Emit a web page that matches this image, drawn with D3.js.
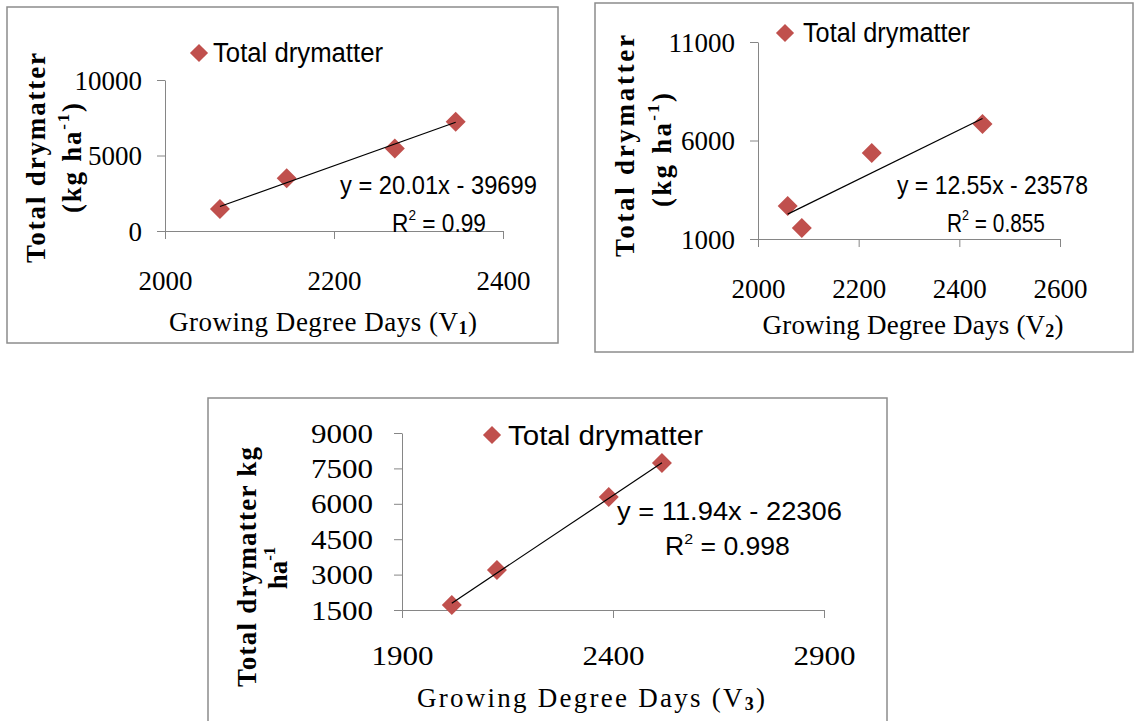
<!DOCTYPE html>
<html>
<head>
<meta charset="utf-8">
<script src="https://cdn.jsdelivr.net/npm/d3@7"></script>
<style>
body { margin: 0; background: #fff; }
</style>
</head>
<body>
<script>
// values (GDD vs total drymatter)
var gdd1 = [2065, 2144, 2272, 2344];
var dm1  = [1450, 3490, 5460, 7240];
var gdd2 = [2059, 2087, 2226, 2446];
var dm2  = [2680, 1560, 5370, 6840];
var gdd3 = [2018, 2125, 2390, 2516];
var dm3  = [1710, 3200, 6290, 7730];

// trendlines as printed on the chart
var slopes     = [20.01, 12.55, 11.94];
var intercepts = [-39699, -23578, -22306];
var r2Labels   = ["0.99", "0.855", "0.998"];

// axis ticks
var xTicks1 = [2000, 2200, 2400];
var yTicks1 = [0, 5000, 10000];
var xTicks2 = [2000, 2200, 2400, 2600];
var yTicks2 = [1000, 6000, 11000];
var xTicks3 = [1900, 2400, 2900];
var yTicks3 = [1500, 3000, 4500, 6000, 7500, 9000];

var seriesName = "Total drymatter";
var xTitles = ["Growing Degree Days  (V", "Growing Degree Days (V", "Growing Degree Days (V"];
var xSubs   = ["1", "2", "3"];
var yTitlesA = ["Total drymatter", "Total drymatter", "Total drymatter kg"];
var yTitlesB = [["(kg ha", "-1", ")"], ["(kg ha", "-1", ")"], ["ha", "-1", ""]];

var red = "#c0504d", axisGrey = "#868686";
var serif = "'Liberation Serif', 'Times New Roman', serif";
var sans = "'Liberation Sans', Arial, sans-serif";

// layout of each panel (pixels on the page)
var panels = [
  {box: [7, 7, 558, 343], xr: [165, 503], yr: [231, 80], xd: [2000, 2400], yd: [0, 10000],
   gdd: gdd1, dm: dm1, xt: xTicks1, yt: yTicks1, labX: 142, labY: 281, stretch: 1,
   legend: [199, 53, 213, 170], eq: [340, 185, 197], r2: [392, 223, 94],
   xTitle: [323, 322, 308], yA: [36, 158, 210], yB: [72, 158, 110]},
  {box: [595, 3, 1133, 352], xr: [758, 1060], yr: [239, 42], xd: [2000, 2600], yd: [1000, 11000],
   gdd: gdd2, dm: dm2, xt: xTicks2, yt: yTicks2, labX: 735, labY: 289, stretch: 1,
   legend: [785, 33, 803, 167], eq: [897, 185, 191], r2: [947, 223, 98],
   xTitle: [913, 325, 301], yA: [625, 146, 222], yB: [662, 150, 114]},
  {box: [208, 398, 887, 730], xr: [402, 824], yr: [610, 433], xd: [1900, 2900], yd: [1500, 9000],
   gdd: gdd3, dm: dm3, xt: xTicks3, yt: yTicks3, labX: 373, labY: 656, stretch: 1.15,
   legend: [492, 435, 508, 195], eq: [617, 511, 225], r2: [665, 546, 125],
   xTitle: [591, 698, 348], yA: [247, 567, 240], yB: [278, 568, 0]}
];

var svg = d3.select("body").append("svg")
    .attr("width", 1134)
    .attr("height", 721)
    .style("display", "block");

var marker = d3.symbol().type(d3.symbolSquare).size(200);
var legendMarker = d3.symbol().type(d3.symbolSquare).size(165);

function stretchText(sel, k) {
  if (k === 1) return;
  sel.each(function() {
    var w = this.getComputedTextLength();
    d3.select(this).attr("textLength", w * k).attr("lengthAdjust", "spacingAndGlyphs");
  });
}

// squeeze a text (with its tspans) horizontally to a given width
function fitWidth(t, x, y, w) {
  var natural = t.node().getComputedTextLength();
  t.attr("transform", "translate(" + x + "," + y + ") scale(" + (w / natural) + ",1)");
}

panels.forEach(function(p, i) {
  var g = svg.append("g");

  g.append("rect")
      .attr("x", p.box[0])
      .attr("y", p.box[1])
      .attr("width", p.box[2] - p.box[0])
      .attr("height", p.box[3] - p.box[1])
      .attr("fill", "#fff")
      .attr("stroke", "#8c8c8c")
      .attr("stroke-width", 1.5);

  var x = d3.scaleLinear().domain(p.xd).range(p.xr);
  var y = d3.scaleLinear().domain(p.yd).range(p.yr);

  // x axis, labels pushed down like the Excel original
  var xg = g.append("g")
      .attr("transform", "translate(0," + p.yr[0] + ")")
      .call(d3.axisBottom(x).tickValues(p.xt).tickSize(8).tickSizeOuter(0).tickFormat(d3.format("d")));
  xg.selectAll("text")
      .attr("y", p.labY - p.yr[0])
      .attr("dy", null)
      .attr("dominant-baseline", "central")
      .attr("font-family", serif)
      .attr("font-size", 27)
      .attr("fill", "#000")
      .call(stretchText, p.stretch);

  // y axis
  var yg = g.append("g")
      .attr("transform", "translate(" + p.xr[0] + ",0)")
      .call(d3.axisLeft(y).tickValues(p.yt).tickSize(8).tickSizeOuter(0).tickFormat(d3.format("d")));
  yg.selectAll("text")
      .attr("x", p.labX - p.xr[0])
      .attr("dy", null)
      .attr("dominant-baseline", "central")
      .attr("font-family", serif)
      .attr("font-size", 27)
      .attr("fill", "#000")
      .call(stretchText, p.stretch);

  [xg, yg].forEach(function(a) {
    a.select(".domain").attr("stroke", axisGrey);
    a.selectAll(".tick line").attr("stroke", axisGrey);
  });

  // markers
  g.selectAll(".pt")
      .data(d3.zip(p.gdd, p.dm))
    .enter().append("path")
      .attr("class", "pt")
      .attr("d", marker)
      .attr("fill", red)
      .attr("transform", function(d) { return "translate(" + x(d[0]) + "," + y(d[1]) + ") rotate(45)"; });

  // linear trendline over the data range
  var ext = d3.extent(p.gdd);
  g.append("path")
      .datum(ext)
      .attr("fill", "none")
      .attr("stroke", "#000")
      .attr("stroke-width", 1.2)
      .attr("d", d3.line()
        .x(function(d) { return x(d); })
        .y(function(d) { return y(slopes[i] * d + intercepts[i]); }));

  // legend
  g.append("path")
      .attr("d", legendMarker)
      .attr("fill", red)
      .attr("transform", "translate(" + p.legend[0] + "," + p.legend[1] + ") rotate(45)");
  var lt = g.append("text")
      .attr("dominant-baseline", "central")
      .attr("font-family", sans)
      .attr("font-size", 27)
      .text(seriesName);
  fitWidth(lt, p.legend[2], p.legend[1], p.legend[3]);

  // equation and R squared
  var eq = g.append("text")
      .attr("dominant-baseline", "central")
      .attr("font-family", sans)
      .attr("font-size", 25)
      .text("y = " + slopes[i].toFixed(2) + "x - " + Math.abs(intercepts[i]));
  fitWidth(eq, p.eq[0], p.eq[1], p.eq[2]);

  var r2 = g.append("text")
      .attr("dominant-baseline", "central")
      .attr("font-family", sans)
      .attr("font-size", 25);
  r2.append("tspan").text("R");
  r2.append("tspan").attr("dy", -8).attr("font-size", 15).text("2");
  r2.append("tspan").attr("dy", 8).text(" = " + r2Labels[i]);
  fitWidth(r2, p.r2[0], p.r2[1], p.r2[2]);

  // x title with subscript
  var xt = g.append("text")
      .attr("x", p.xTitle[0])
      .attr("y", p.xTitle[1])
      .attr("text-anchor", "middle")
      .attr("dominant-baseline", "central")
      .attr("font-family", serif)
      .attr("font-size", 27)
      .attr("textLength", p.xTitle[2])
      .attr("lengthAdjust", "spacing");
  xt.append("tspan").text(xTitles[i]);
  xt.append("tspan").attr("dy", 6).attr("font-size", 18).attr("font-weight", "bold").text(xSubs[i]);
  xt.append("tspan").attr("dy", -6).text(")");

  // y title, two rotated lines
  g.append("text")
      .attr("transform", "translate(" + p.yA[0] + "," + p.yA[1] + ") rotate(-90)")
      .attr("text-anchor", "middle")
      .attr("dominant-baseline", "central")
      .attr("font-family", serif)
      .attr("font-weight", "bold")
      .attr("font-size", 27)
      .attr("textLength", p.yA[2])
      .attr("lengthAdjust", "spacing")
      .text(yTitlesA[i]);

  var yb = g.append("text")
      .attr("transform", "translate(" + p.yB[0] + "," + p.yB[1] + ") rotate(-90)")
      .attr("text-anchor", "middle")
      .attr("dominant-baseline", "central")
      .attr("font-family", serif)
      .attr("font-weight", "bold")
      .attr("font-size", 27);
  if (p.yB[2]) yb.attr("textLength", p.yB[2]).attr("lengthAdjust", "spacing");
  yb.append("tspan").text(yTitlesB[i][0]);
  yb.append("tspan").attr("dy", -9).attr("font-size", 17).text(yTitlesB[i][1]);
  if (yTitlesB[i][2]) yb.append("tspan").attr("dy", 9).text(yTitlesB[i][2]);
});
</script>
</body>
</html>
